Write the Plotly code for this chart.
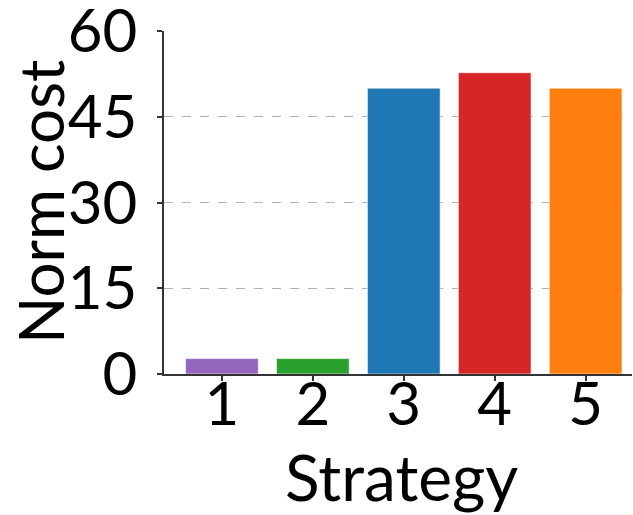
import plotly.graph_objects as go

# Normalised cost per strategy
strategies = ["1", "2", "3", "4", "5"]
norm_cost = [2.7, 2.7, 50.0, 52.7, 50.0]
bar_colors = ["#9467bd", "#2ca02c", "#1f77b4", "#d62728", "#ff7f0e"]
y_ticks = [0, 15, 30, 45, 60]

FONT = "Lato, sans-serif"
AXIS_COLOR = "#333333"
TICK_SIZE = 60

# plot area in pixels
W, H = 633, 515
L, R, T, B = 164, 1, 31, 141
PW, PH = W - L - R, H - T - B


def px_to_paper(x, y):
    return (x - L) / PW, (H - B - y) / PH


fig = go.Figure(
    go.Bar(
        x=[1, 2, 3, 4, 5],
        y=norm_cost,
        width=0.8,
        marker=dict(color=bar_colors, line=dict(color="rgba(255,255,255,0.6)", width=1)),
    )
)

sx, sy = px_to_paper(401, 476)
nx, ny = px_to_paper(40, 202)

fig.update_layout(
    width=W,
    height=H,
    margin=dict(l=L, r=R, t=T, b=B),
    plot_bgcolor="white",
    paper_bgcolor="white",
    showlegend=False,
    font=dict(family=FONT, color="black", size=TICK_SIZE),
    annotations=[
        dict(text="Strategy", xref="paper", yref="paper", x=sx, y=sy,
             xanchor="center", yanchor="middle", showarrow=False,
             font=dict(size=64)),
        dict(text="Norm cost", textangle=-90, xref="paper", yref="paper",
             x=nx, y=ny, xanchor="center", yanchor="middle", showarrow=False,
             font=dict(size=62)),
    ],
)

fig.update_xaxes(
    range=[0.363, 5.51],
    tickmode="array",
    tickvals=[1, 2, 3, 4, 5],
    ticktext=strategies,
    ticks="outside",
    ticklen=5,
    tickwidth=1.5,
    tickcolor=AXIS_COLOR,
    showline=True,
    linecolor=AXIS_COLOR,
    linewidth=1.5,
    showgrid=False,
    zeroline=False,
    automargin=False,
    tickfont=dict(size=TICK_SIZE),
    ticklabelstandoff=-28,
    ticklabeloverflow="allow",
)

fig.update_yaxes(
    range=[0, 60],
    tickmode="array",
    tickvals=y_ticks,
    ticktext=[str(v) for v in y_ticks],
    ticks="outside",
    ticklen=5,
    tickwidth=1.5,
    tickcolor=AXIS_COLOR,
    showline=True,
    linecolor=AXIS_COLOR,
    linewidth=1.5,
    showgrid=True,
    gridcolor="#b0b0b0",
    griddash="dash",
    gridwidth=1,
    zeroline=False,
    automargin=False,
    tickfont=dict(size=TICK_SIZE),
    ticklabelstandoff=8,
    ticklabeloverflow="allow",
)

fig.write_html("out.html")
